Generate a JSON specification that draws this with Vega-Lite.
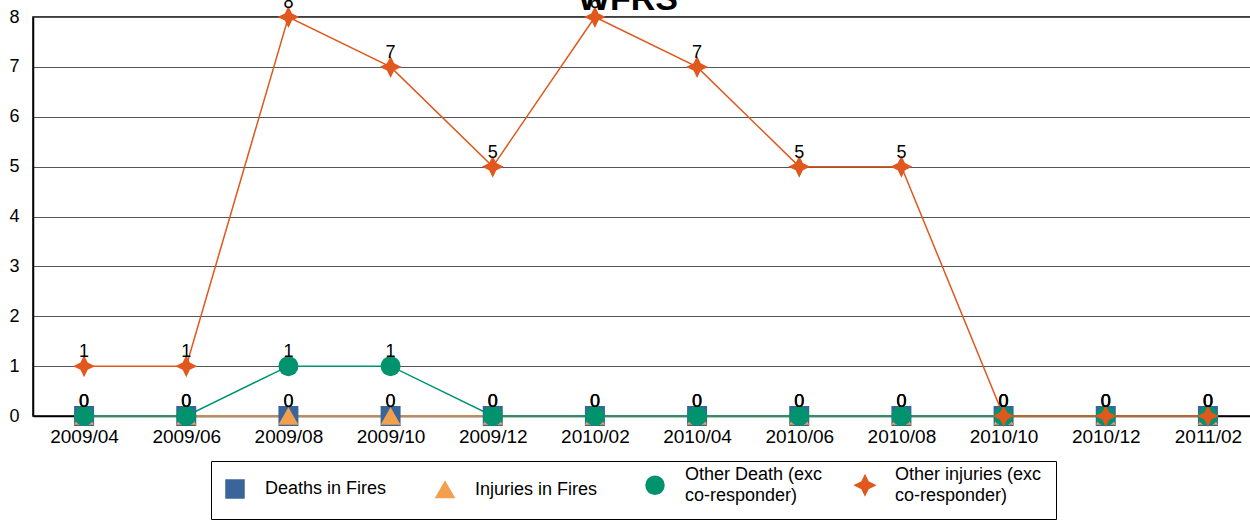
{
  "$schema": "https://vega.github.io/schema/vega-lite/v6.json",
  "width": 1226,
  "height": 399,
  "padding": {"left": 8, "top": -17, "right": 0, "bottom": 0},
  "background": "white",
  "config": {
    "font": "Liberation Sans",
    "view": {"stroke": "#000000", "strokeWidth": 1.5}
  },
  "title": {
    "text": "WFRS",
    "font": "Liberation Sans",
    "fontSize": 34,
    "fontWeight": "bold",
    "color": "#000000",
    "offset": -23,
    "dx": -18,
    "anchor": "middle"
  },
  "data": {
    "values": [
      {"date": "2009/04", "series": "Deaths in Fires", "value": 0},
      {"date": "2009/06", "series": "Deaths in Fires", "value": 0},
      {"date": "2009/08", "series": "Deaths in Fires", "value": 0},
      {"date": "2009/10", "series": "Deaths in Fires", "value": 0},
      {"date": "2009/12", "series": "Deaths in Fires", "value": 0},
      {"date": "2010/02", "series": "Deaths in Fires", "value": 0},
      {"date": "2010/04", "series": "Deaths in Fires", "value": 0},
      {"date": "2010/06", "series": "Deaths in Fires", "value": 0},
      {"date": "2010/08", "series": "Deaths in Fires", "value": 0},
      {"date": "2010/10", "series": "Deaths in Fires", "value": 0},
      {"date": "2010/12", "series": "Deaths in Fires", "value": 0},
      {"date": "2011/02", "series": "Deaths in Fires", "value": 0},
      {"date": "2009/04", "series": "Injuries in Fires", "value": 0},
      {"date": "2009/06", "series": "Injuries in Fires", "value": 0},
      {"date": "2009/08", "series": "Injuries in Fires", "value": 0},
      {"date": "2009/10", "series": "Injuries in Fires", "value": 0},
      {"date": "2009/12", "series": "Injuries in Fires", "value": 0},
      {"date": "2010/02", "series": "Injuries in Fires", "value": 0},
      {"date": "2010/04", "series": "Injuries in Fires", "value": 0},
      {"date": "2010/06", "series": "Injuries in Fires", "value": 0},
      {"date": "2010/08", "series": "Injuries in Fires", "value": 0},
      {"date": "2010/10", "series": "Injuries in Fires", "value": 0},
      {"date": "2010/12", "series": "Injuries in Fires", "value": 0},
      {"date": "2011/02", "series": "Injuries in Fires", "value": 0},
      {"date": "2009/04", "series": "Other Death (exc co-responder)", "value": 0},
      {"date": "2009/06", "series": "Other Death (exc co-responder)", "value": 0},
      {"date": "2009/08", "series": "Other Death (exc co-responder)", "value": 1},
      {"date": "2009/10", "series": "Other Death (exc co-responder)", "value": 1},
      {"date": "2009/12", "series": "Other Death (exc co-responder)", "value": 0},
      {"date": "2010/02", "series": "Other Death (exc co-responder)", "value": 0},
      {"date": "2010/04", "series": "Other Death (exc co-responder)", "value": 0},
      {"date": "2010/06", "series": "Other Death (exc co-responder)", "value": 0},
      {"date": "2010/08", "series": "Other Death (exc co-responder)", "value": 0},
      {"date": "2010/10", "series": "Other Death (exc co-responder)", "value": 0},
      {"date": "2010/12", "series": "Other Death (exc co-responder)", "value": 0},
      {"date": "2011/02", "series": "Other Death (exc co-responder)", "value": 0},
      {"date": "2009/04", "series": "Other injuries (exc co-responder)", "value": 1},
      {"date": "2009/06", "series": "Other injuries (exc co-responder)", "value": 1},
      {"date": "2009/08", "series": "Other injuries (exc co-responder)", "value": 8},
      {"date": "2009/10", "series": "Other injuries (exc co-responder)", "value": 7},
      {"date": "2009/12", "series": "Other injuries (exc co-responder)", "value": 5},
      {"date": "2010/02", "series": "Other injuries (exc co-responder)", "value": 8},
      {"date": "2010/04", "series": "Other injuries (exc co-responder)", "value": 7},
      {"date": "2010/06", "series": "Other injuries (exc co-responder)", "value": 5},
      {"date": "2010/08", "series": "Other injuries (exc co-responder)", "value": 5},
      {"date": "2010/10", "series": "Other injuries (exc co-responder)", "value": 0},
      {"date": "2010/12", "series": "Other injuries (exc co-responder)", "value": 0},
      {"date": "2011/02", "series": "Other injuries (exc co-responder)", "value": 0}
    ]
  },
  "encoding": {
    "x": {
      "field": "date",
      "type": "ordinal",
      "scale": {"type": "point", "padding": 0.5},
      "axis": {
        "title": null,
        "labelAngle": 0,
        "labelFontSize": 19,
        "labelColor": "#000000",
        "labelPadding": 11,
        "ticks": false,
        "tickSize": 0,
        "grid": false,
        "domainColor": "#000000",
        "domainWidth": 1.5
      }
    },
    "y": {
      "field": "value",
      "type": "quantitative",
      "scale": {"domain": [0, 8], "nice": false, "zero": true},
      "axis": {
        "title": null,
        "values": [0, 1, 2, 3, 4, 5, 6, 7, 8],
        "labelFontSize": 18,
        "labelColor": "#000000",
        "labelPadding": 14,
        "ticks": false,
        "tickSize": 0,
        "grid": true,
        "gridColor": "#555555",
        "gridWidth": 1,
        "domainColor": "#000000",
        "domainWidth": 1.5
      }
    },
    "color": {
      "field": "series",
      "type": "nominal",
      "scale": {
        "domain": ["Deaths in Fires", "Injuries in Fires", "Other Death (exc co-responder)", "Other injuries (exc co-responder)"],
        "range": ["#3A659A", "#F2A04D", "#00936E", "#E0581D"]
      },
      "legend": {
        "orient": "none",
        "legendX": 178,
        "legendY": 444,
        "direction": "horizontal",
        "columns": 4,
        "gridAlign": "all",
        "columnPadding": 20,
        "padding": 14,
        "strokeColor": "#000000",
        "fillColor": "#ffffff",
        "title": null,
        "labelFont": "Liberation Sans",
        "labelFontSize": 18,
        "labelColor": "#000000",
        "labelLimit": 300,
        "labelOffset": 20,
        "symbolSize": 324,
        "symbolStrokeWidth": 1.5,
        "labelExpr": "datum.label == 'Other Death (exc co-responder)' ? ['Other Death (exc', 'co-responder)'] : datum.label == 'Other injuries (exc co-responder)' ? ['Other injuries (exc', 'co-responder)'] : datum.label",
        "encode": {
          "symbols": {
            "update": {
              "fill": {"signal": "scale('color', datum.value)"},
              "stroke": {"signal": "scale('color', datum.value)"},
              "strokeWidth": {"value": 1.5},
              "opacity": {"value": 1}
            }
          },
          "labels": {
            "update": {
              "lineHeight": {"value": 21},
              "dy": {"signal": "length(datum.label) > 20 ? -10.5 : 0"}
            }
          }
        }
      }
    }
  },
  "layer": [
    {
      "mark": {"type": "line", "strokeWidth": 1.5},
      "encoding": {
        "detail": {"field": "series"},
        "strokeWidth": {
          "field": "series",
          "type": "nominal",
          "scale": {
            "domain": ["Deaths in Fires", "Injuries in Fires", "Other Death (exc co-responder)", "Other injuries (exc co-responder)"],
            "range": [1.5, 1.5, 1.2, 2]
          },
          "legend": null
        }
      }
    },
    {
      "mark": {"type": "point", "filled": true, "opacity": 1, "size": 400},
      "encoding": {
        "shape": {
          "field": "series",
          "type": "nominal",
          "scale": {
            "domain": ["Deaths in Fires", "Injuries in Fires", "Other Death (exc co-responder)", "Other injuries (exc co-responder)"],
            "range": ["square", "triangle-up", "circle", "M0,-1.1L0.36,-0.36L1.1,0L0.36,0.36L0,1.1L-0.36,0.36L-1.1,0L-0.36,-0.36Z"]
          }
        }
      }
    },
    {
      "mark": {"type": "text", "fontSize": 18, "baseline": "alphabetic", "dy": -9},
      "encoding": {
        "text": {"field": "value", "type": "quantitative"},
        "color": {"value": "#000000"}
      }
    }
  ]
}
